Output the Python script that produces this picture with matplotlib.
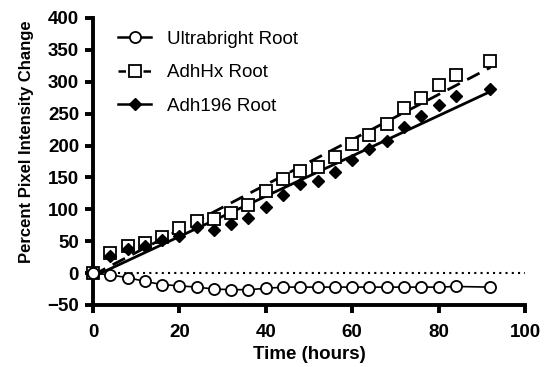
import numpy as np
import matplotlib
matplotlib.use("Agg")
import matplotlib.pyplot as plt
from matplotlib.lines import Line2D

plt.rcParams['font.family'] = ['Liberation Sans', 'DejaVu Sans']

time_h = [0, 4, 8, 12, 16, 20, 24, 28, 32, 36, 40, 44, 48, 52, 56, 60, 64, 68, 72, 76, 80, 84, 92]
ultrabright = [0, -3, -7, -13, -18, -20, -22, -25, -26, -26, -24, -22, -22, -22, -22, -22, -22, -22, -22, -22, -22, -21, -22]
adhhx = [0, 32, 43, 47, 57, 71, 81, 85, 95, 107, 128, 147, 160, 166, 182, 202, 216, 234, 259, 275, 295, 310, 332]
adh196 = [0, 27, 38, 43, 52, 58, 73, 68, 77, 87, 103, 122, 139, 144, 158, 178, 194, 207, 229, 246, 264, 278, 289]

x_ticks = [0, 20, 40, 60, 80, 100]
y_ticks = [-50, 0, 50, 100, 150, 200, 250, 300, 350, 400]

t = np.array(time_h, dtype=float)
hx = np.array(adhhx, dtype=float)
a196 = np.array(adh196, dtype=float)
fit_hx = np.polyfit(t, hx, 1)
fit_196 = np.polyfit(t, a196, 1)
tfit = np.array([t.min(), t.max()])

fig = plt.figure(figsize=(5.5, 3.67), dpi=100)
ax = fig.add_axes([0.169, 0.169, 0.7855, 0.782])

ax.axhline(0, color='black', linestyle=(0, (1, 2)), linewidth=1.5, zorder=1)

ax.plot(t, ultrabright, color='black', linewidth=1.2, marker='o', markersize=8,
        markerfacecolor='white', markeredgecolor='black', markeredgewidth=1.3,
        clip_on=False, zorder=5)
ax.plot(tfit, np.polyval(fit_hx, tfit), color='black', linewidth=2, linestyle=(0, (5, 3)), zorder=3)
ax.plot(t, hx, linestyle='none', marker='s', markersize=8.5,
        markerfacecolor='white', markeredgecolor='black', markeredgewidth=1.3,
        clip_on=False, zorder=4)
ax.plot(tfit, np.polyval(fit_196, tfit), color='black', linewidth=2, linestyle='-', zorder=3)
ax.plot(t, a196, linestyle='none', marker='D', markersize=6,
        markerfacecolor='black', markeredgecolor='black',
        clip_on=False, zorder=4)

h1 = Line2D([], [], color='black', linewidth=1.8, marker='o', markersize=8,
            markerfacecolor='white', markeredgecolor='black', markeredgewidth=1.3)
h2 = Line2D([], [], color='black', linewidth=1.8, linestyle=(0, (3, 2)), marker='s', markersize=8,
            markerfacecolor='white', markeredgecolor='black', markeredgewidth=1.3)
h3 = Line2D([], [], color='black', linewidth=1.8, marker='D', markersize=6,
            markerfacecolor='black', markeredgecolor='black')
ax.legend([h1, h2, h3], ['Ultrabright Root', 'AdhHx Root', 'Adh196 Root'],
          loc='upper left', bbox_to_anchor=(0.04, 0.981), frameon=False,
          fontsize=13.5, handlelength=1.8, handletextpad=0.85, labelspacing=0.87,
          borderaxespad=0)

ax.set_xlim(0, 100)
ax.set_ylim(-50, 400)
ax.set_xticks(x_ticks)
ax.set_yticks(y_ticks)
for s in ['top', 'right']:
    ax.spines[s].set_visible(False)
for s in ['left', 'bottom']:
    ax.spines[s].set_linewidth(2.8)
ax.tick_params(direction='out', width=2.8, length=6, labelsize=13.5)
ax.tick_params(axis='x', pad=8)
ax.tick_params(axis='y', pad=4)
for lab in ax.get_xticklabels() + ax.get_yticklabels():
    lab.set_fontweight('bold')

ax.set_xlabel('Time (hours)', fontsize=13.5, fontweight='bold', labelpad=3)
ax.set_ylabel('Percent Pixel Intensity Change', fontsize=12, fontweight='bold')
ax.yaxis.set_label_coords(-0.137, 0.57)

fig.savefig('out.png', dpi=100)
